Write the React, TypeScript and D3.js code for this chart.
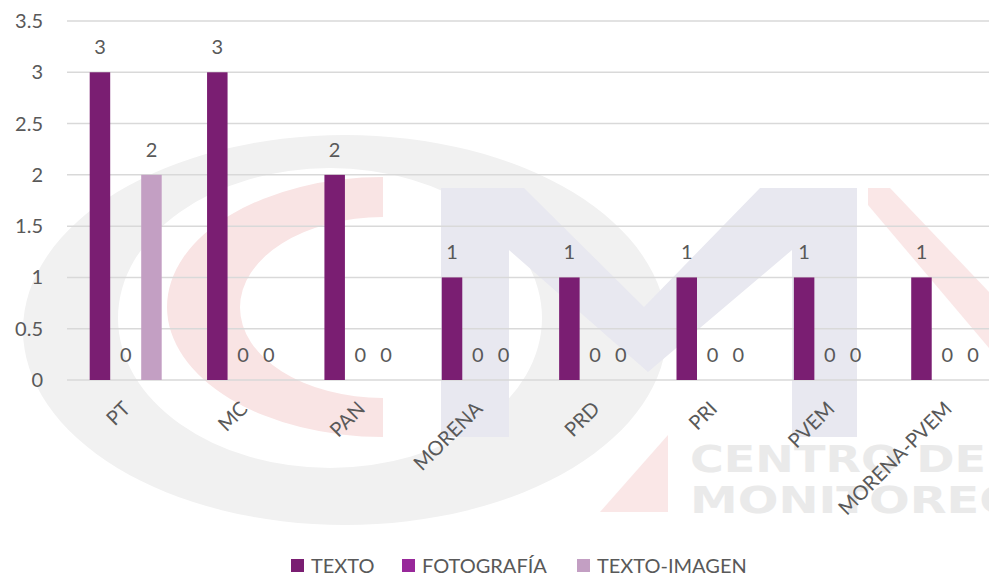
import { useEffect, useRef } from "react";
import * as d3 from "d3";

const categories = ["PT", "MC", "PAN", "MORENA", "PRD", "PRI", "PVEM", "MORENA-PVEM"];
const seriesNames = ["TEXTO", "FOTOGRAFÍA", "TEXTO-IMAGEN"];
const texto = [3, 3, 2, 1, 1, 1, 1, 1];
const fotografia = [0, 0, 0, 0, 0, 0, 0, 0];
const textoImagen = [2, 0, 0, 0, 0, 0, 0, 0];
const yTicks = [0, 0.5, 1, 1.5, 2, 2.5, 3, 3.5];

const colors = ["#7a1e72", "#98289a", "#c39fc3"];
const W = 989;
const H = 576;
const FONT = "Lato, 'Open Sans', sans-serif";
const TXT = "#595959";

// full ellipse as svg path
const ell = (cx: number, cy: number, rx: number, ry: number) =>
  `M${cx - rx},${cy} A${rx},${ry} 0 1 0 ${cx + rx},${cy} A${rx},${ry} 0 1 0 ${cx - rx},${cy} Z`;

function App() {
  const ref = useRef<SVGSVGElement>(null);

  useEffect(() => {
    const svg = d3.select(ref.current);
    svg.selectAll("*").remove();

    const values = [texto, fotografia, textoImagen];
    const left = 67;
    const step = 117.36;

    const x0 = d3.scaleBand<string>()
      .domain(categories)
      .range([left, left + step * categories.length]);
    const x1 = d3.scaleBand<string>()
      .domain(seriesNames)
      .range([22.7, 94.7])
      .paddingInner(0.204);
    const y = d3.scaleLinear().domain([0, 3.5]).range([380, 21]);

    // watermark (logo behind the chart)
    const wm = svg.append("g");
    wm.append("path")
      .attr("fill", "#f1f1f1")
      .attr("fill-rule", "evenodd")
      .attr("d", ell(345, 330, 322, 195) + ell(330, 318, 212, 150));
    wm.append("path")
      .attr("fill", "#f9e4e4")
      .attr("d", "M383,177 A216,130 0 0 0 383,437 L383,398 A143,90.5 0 0 1 383,217 Z");
    wm.append("path")
      .attr("fill", "#e8e8f0")
      .attr("d", "M441,188 L524,188 L644,307 L760,188 L857,188 L857,437 L792,437 L792,250 L648,372 L509,250 L509,437 L441,437 Z");
    wm.append("path")
      .attr("fill", "#fae7e7")
      .attr("d", "M868,188 L890,188 L989,292 L989,348 L868,205 Z");
    wm.append("path")
      .attr("fill", "#fae7e7")
      .attr("d", "M668,435 L668,512 L600,512 Z");
    wm.append("text")
      .attr("x", 690).attr("y", 472)
      .attr("textLength", 296).attr("lengthAdjust", "spacingAndGlyphs")
      .attr("font-family", "'DejaVu Sans', sans-serif").attr("font-weight", "bold")
      .attr("font-size", 37).attr("fill", "#eaeaea")
      .text("CENTRO DE");
    wm.append("text")
      .attr("x", 690).attr("y", 513)
      .attr("textLength", 330).attr("lengthAdjust", "spacingAndGlyphs")
      .attr("font-family", "'DejaVu Sans', sans-serif").attr("font-weight", "bold")
      .attr("font-size", 37).attr("fill", "#eaeaea")
      .text("MONITOREO");

    // gridlines
    svg.append("g")
      .selectAll("line")
      .data(yTicks)
      .join("line")
      .attr("x1", left)
      .attr("x2", left + step * categories.length)
      .attr("y1", (d) => y(d))
      .attr("y2", (d) => y(d))
      .attr("stroke", "#d9d9d9")
      .attr("stroke-width", 1.5);

    // y tick labels
    svg.append("g")
      .selectAll("text")
      .data(yTicks)
      .join("text")
      .attr("x", 43)
      .attr("y", (d) => y(d))
      .attr("dy", "0.35em")
      .attr("text-anchor", "end")
      .attr("font-family", FONT)
      .attr("font-size", 20)
      .attr("fill", TXT)
      .text((d) => String(d));

    // bars + labels
    const groups = svg.append("g")
      .selectAll("g")
      .data(categories)
      .join("g")
      .attr("transform", (d) => `translate(${x0(d)},0)`);

    const rows = (ci: number) =>
      seriesNames.map((s, si) => ({ s, si, v: values[si][ci] }));

    groups.selectAll("rect")
      .data((_, ci) => rows(ci))
      .join("rect")
      .attr("x", (d) => x1(d.s)!)
      .attr("width", x1.bandwidth())
      .attr("y", (d) => y(d.v))
      .attr("height", (d) => y(0) - y(d.v))
      .attr("fill", (d) => colors[d.si]);

    groups.selectAll("text")
      .data((_, ci) => rows(ci))
      .join("text")
      .attr("x", (d) => x1(d.s)! + x1.bandwidth() / 2)
      .attr("y", (d) => y(d.v) - 18)
      .attr("text-anchor", "middle")
      .attr("font-family", FONT)
      .attr("font-size", 20)
      .attr("fill", TXT)
      .text((d) => String(d.v));

    // x labels
    svg.append("g")
      .selectAll("text")
      .data(categories)
      .join("text")
      .attr("transform", (d) => `translate(${x0(d)! + step / 2 + 6},410) rotate(-45)`)
      .attr("text-anchor", "end")
      .attr("font-family", FONT)
      .attr("font-size", 20)
      .attr("fill", TXT)
      .text((d) => d);

    // legend
    const legendX = [291, 402, 577];
    const lg = svg.append("g")
      .selectAll("g")
      .data(seriesNames)
      .join("g")
      .attr("transform", (_, i) => `translate(${legendX[i]},559)`);
    lg.append("rect")
      .attr("width", 13)
      .attr("height", 13)
      .attr("fill", (_, i) => colors[i]);
    lg.append("text")
      .attr("x", 20)
      .attr("y", 14)
      .attr("font-family", FONT)
      .attr("font-size", 20)
      .attr("fill", TXT)
      .text((d) => d);
  }, []);

  return (
    <svg
      ref={ref}
      width={W}
      height={H}
      style={{ position: "absolute", left: 0, top: 0, background: "#fff" }}
    />
  );
}

export default App;
